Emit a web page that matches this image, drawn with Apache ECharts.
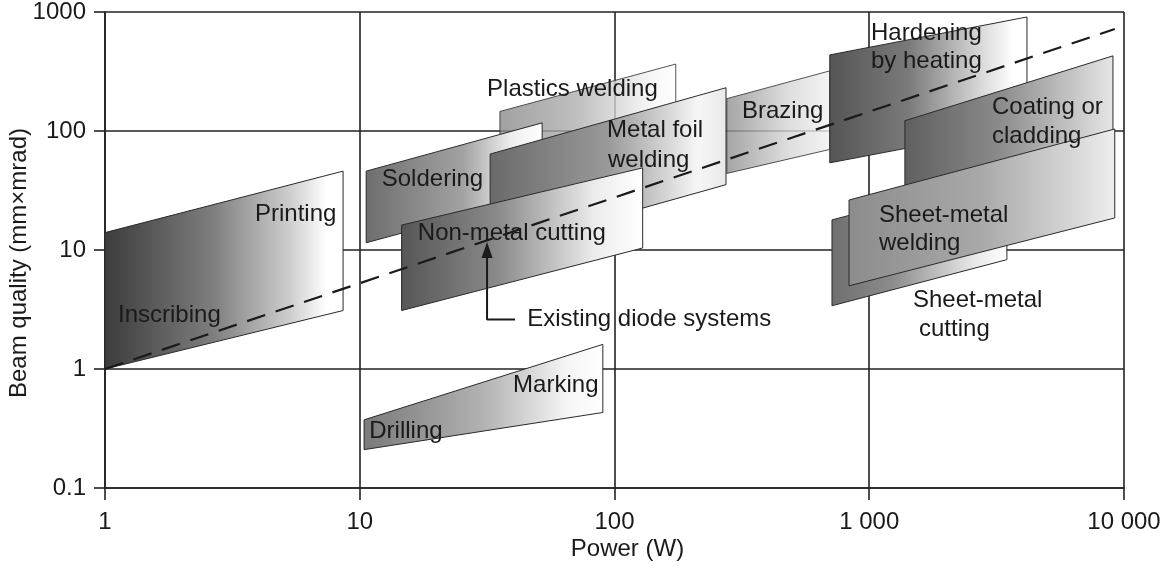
<!DOCTYPE html>
<html>
<head>
<meta charset="utf-8">
<script src="https://cdn.jsdelivr.net/npm/echarts@6/dist/echarts.min.js"></script>
<style>
html,body{margin:0;padding:0;background:#fff;}
#chart{width:1169px;height:568px;}
</style>
</head>
<body>
<div id="chart"></div>
<script>
// ---- data (power W, beam quality mm×mrad) ----
const xTickLabels = ['1', '10', '100', '1 000', '10 000'];
const yTickLabels = ['0.1', '1', '10', '100', '1000'];

const inscribingPrinting = [[1, 14], [8.6, 46], [8.6, 3.1], [1, 1]];
const plasticsWelding   = [[35.5, 146], [174, 365], [174, 119], [35.5, 52]];
const soldering         = [[10.6, 46], [52, 117], [52, 29], [10.6, 11.5]];
const metalFoilWelding  = [[32.5, 64], [274, 231], [274, 35.4], [32.5, 9.8]];
const nonMetalCutting   = [[14.6, 16.2], [129, 49], [129, 10.4], [14.6, 3.1]];
const brazing           = [[276, 187], [700, 320], [700, 70], [276, 44]];
const hardening         = [[700, 436], [4160, 908], [4160, 112], [700, 54]];
const coating           = [[1380, 122], [9050, 428], [9050, 100], [1380, 28.6]];
const sheetCutting      = [[714, 17.9], [3470, 43.7], [3470, 8.3], [714, 3.4]];
const sheetWelding      = [[833, 26.3], [9200, 104], [9200, 18.6], [833, 5]];
const markingDrilling   = [[10.4, 0.374], [90, 1.61], [90, 0.431], [10.4, 0.21]];

const diodeLine  = [[1, 1], [9200, 720]];
const arrowPath  = [[40.7, 2.6], [31.6, 2.6], [31.6, 10]];

const labelTexts = ['Printing', 'Inscribing', 'Soldering', 'Plastics welding', 'Metal foil', 'welding',
  'Non-metal cutting', 'Existing diode systems', 'Marking', 'Drilling', 'Brazing', 'Hardening',
  'by heating', 'Coating or', 'cladding', 'Sheet-metal', 'welding', 'Sheet-metal', 'cutting'];
const labelX = [3.88, 1.125, 12.2, 31.6, 93.5, 94.3, 16.9, 45.4, 40.0, 10.9, 316.6, 1016,
  1016, 3033, 3033, 1092, 1092, 1485, 1568];
const labelY = [19.8, 2.84, 39.5, 225, 101.1, 56.6, 13.8, 2.60, 0.728, 0.302, 144.8, 662,
  385, 157, 89.8, 19.5, 11.4, 3.75, 2.14];

// ---- styles ----
const FONT = '"Liberation Sans", Arial, Helvetica, sans-serif';
const FS = 24;
const INK = '#1a1a1a';
const shapes = [
  [inscribingPrinting, [[0, '#3c3c3c'], [0.45, '#7d7d7d'], [0.78, '#cfcfcf'], [0.93, '#ffffff'], [1, '#ffffff']], 1],
  [plasticsWelding,    [[0, '#8a8a8a'], [0.45, '#b0b0b0'], [0.85, '#f4f4f4'], [1, '#ffffff']], 0.8],
  [soldering,          [[0, '#6e6e6e'], [0.55, '#a2a2a2'], [0.82, '#eeeeee'], [1, '#ffffff']], 1],
  [metalFoilWelding,   [[0, '#6a6a6a'], [0.5, '#999999'], [0.88, '#f6f6f6'], [1, '#e9e9e9']], 1],
  [nonMetalCutting,    [[0, '#565656'], [0.4, '#8a8a8a'], [0.8, '#ececec'], [1, '#ffffff']], 1],
  [brazing,            [[0, '#8e8e8e'], [0.6, '#d6d6d6'], [1, '#f2f2f2']], 0.8],
  [hardening,          [[0, '#555555'], [0.4, '#7a7a7a'], [0.78, '#dcdcdc'], [0.93, '#ffffff'], [1, '#ffffff']], 1],
  [coating,            [[0, '#5f5f5f'], [0.45, '#8a8a8a'], [0.85, '#cdcdcd'], [1, '#e6e6e6']], 1],
  [sheetCutting,       [[0, '#6f6f6f'], [0.35, '#8c8c8c'], [0.8, '#e6e6e6'], [1, '#ffffff']], 1],
  [sheetWelding,       [[0, '#8c8c8c'], [0.5, '#a9a9a9'], [0.85, '#d8d8d8'], [1, '#eeeeee']], 1],
  [markingDrilling,    [[0, '#7a7a7a'], [0.5, '#b2b2b2'], [0.85, '#f5f5f5'], [1, '#ffffff']], 1]
];

function polygonSeries(pts, stops, opacity) {
  return {
    type: 'custom',
    coordinateSystem: 'cartesian2d',
    silent: true,
    data: pts,
    encode: { x: 0, y: 1 },
    renderItem: function (params, api) {
      if (params.dataIndex !== 0) return null;
      const points = pts.map(p => api.coord(p));
      return {
        type: 'polygon',
        shape: { points: points },
        style: {
          fill: new echarts.graphic.LinearGradient(0, 0, 1, 0,
            stops.map(s => ({ offset: s[0], color: s[1] }))),
          stroke: '#2a2a2a',
          lineWidth: 1,
          opacity: opacity
        }
      };
    }
  };
}

const series = shapes.map(s => polygonSeries(s[0], s[1], s[2]));

series.push({
  type: 'line',
  data: diodeLine,
  symbol: 'none',
  silent: true,
  lineStyle: { color: INK, width: 2.2, type: [19, 11] },
  z: 5
});

series.push({
  type: 'line',
  data: arrowPath.map((p, i) => i === arrowPath.length - 1
    ? { value: p, symbol: 'triangle', symbolSize: [11, 16] }
    : { value: p, symbol: 'none' }),
  showSymbol: true,
  silent: true,
  itemStyle: { color: INK },
  lineStyle: { color: INK, width: 2 },
  z: 5
});

series.push({
  type: 'custom',
  coordinateSystem: 'cartesian2d',
  silent: true,
  data: labelX.map((x, i) => [x, labelY[i]]),
  encode: { x: 0, y: 1 },
  z: 6,
  renderItem: function (params, api) {
    const pt = api.coord([api.value(0), api.value(1)]);
    return {
      type: 'text',
      x: pt[0],
      y: pt[1],
      style: {
        text: labelTexts[params.dataIndex],
        fill: INK,
        font: FS + 'px ' + FONT,
        align: 'left',
        verticalAlign: 'middle'
      }
    };
  }
});

const lineStyle = { color: '#222', width: 1.6 };

const option = {
  animation: false,
  backgroundColor: '#ffffff',
  grid: { left: 105, right: 45, top: 12, bottom: 80, containLabel: false, outerBoundsMode: 'none' },
  xAxis: {
    type: 'log',
    logBase: 10,
    min: 1,
    max: 10000,
    name: 'Power (W)',
    nameLocation: 'middle',
    nameGap: 49,
    nameMoveOverlap: false,
    nameTextStyle: { fontSize: FS, fontFamily: FONT, color: INK, padding: [0, 0, 0, 26] },
    axisLine: { show: true, lineStyle: lineStyle },
    axisTick: { show: true, inside: false, length: 12, lineStyle: lineStyle },
    axisLabel: {
      fontSize: FS, fontFamily: FONT, color: INK, margin: 22,
      formatter: v => xTickLabels[Math.round(Math.log10(v))]
    },
    splitLine: { show: true, lineStyle: lineStyle },
    minorTick: { show: false },
    minorSplitLine: { show: false }
  },
  yAxis: {
    type: 'log',
    logBase: 10,
    min: 0.1,
    max: 1000,
    name: 'Beam quality (mm\u00d7mrad)',
    nameLocation: 'middle',
    nameGap: 74,
    nameRotate: 90,
    nameMoveOverlap: false,
    nameTextStyle: { fontSize: FS, fontFamily: FONT, color: INK, padding: [0, 26, 0, 0] },
    axisLine: { show: true, lineStyle: lineStyle },
    axisTick: { show: true, inside: false, length: 11, lineStyle: lineStyle },
    axisLabel: {
      fontSize: FS, fontFamily: FONT, color: INK, margin: 19,
      formatter: v => yTickLabels[Math.round(Math.log10(v)) + 1]
    },
    splitLine: { show: true, lineStyle: lineStyle },
    minorTick: { show: false },
    minorSplitLine: { show: false }
  },
  series: series
};

const chart = echarts.init(document.getElementById('chart'), null, { renderer: 'canvas' });
chart.setOption(option);
</script>
</body>
</html>
